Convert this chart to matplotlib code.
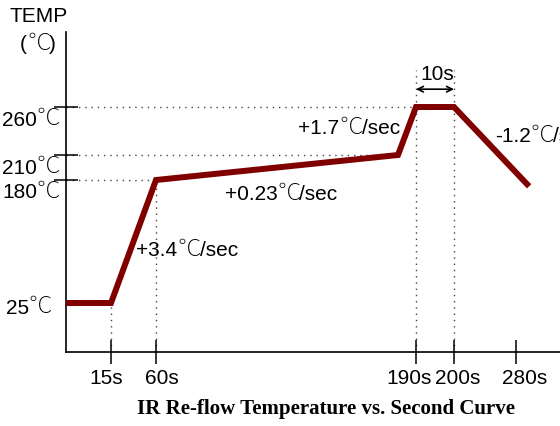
import numpy as np
import matplotlib
matplotlib.use("Agg")
import matplotlib.pyplot as plt
from matplotlib.transforms import IdentityTransform

# reflow profile (time in s, temperature in C)
times = [0, 15, 60, 181, 190, 200, 297]
temps = [25, 25, 180, 210, 260, 260, 172]

xticks = [15, 60, 190, 200, 280]
xlabels = ["15s", "60s", "190s", "200s", "280s"]
yticks = [25, 180, 210, 260]
ylabels = ["25℃", "180℃", "210℃", "260℃"]

slope_labels = ["+3.4℃/sec", "+0.23℃/sec", "+1.7℃/sec", "-1.2℃/sec"]
title = "IR Re-flow Temperature vs. Second Curve"

# the chart is a sketch: axes are not linear, so use piecewise scales
x_knots = [0, 15, 60, 190, 200, 280, 337]
x_pix = [0, 45, 90, 350, 388, 450, 494]
y_knots = [0, 25, 180, 210, 260, 340]
y_pix = [0, 49, 172, 197, 245, 320]


def fx(v):
    return np.interp(v, x_knots, x_pix)


def ix(v):
    return np.interp(v, x_pix, x_knots)


def fy(v):
    return np.interp(v, y_knots, y_pix)


def iy(v):
    return np.interp(v, y_pix, y_knots)


W, H = 560, 426
latin = "Liberation Sans"
cjk = "Noto Sans CJK JP"
fs = 15
fs_deg = 17
red = "#800000"
dot = dict(color="#444444", lw=1.0, ls=(0, (1, 3.5)), zorder=1)

fig = plt.figure(figsize=(5.6, 4.26), dpi=100)
renderer = fig.canvas.get_renderer()


def mixed_text(x, y, s, ha="left"):
    # x, y: pixels from the top-left, y = middle of the digits
    # the degree sign comes from a thin CJK face, the rest from Liberation
    parts = []
    buf = ""
    for ch in s:
        if ch == "℃":
            if buf:
                parts.append((buf, latin))
                buf = ""
            parts.append((ch, cjk))
        else:
            buf += ch
    if buf:
        parts.append((buf, latin))
    base = H - (y + 0.36 * fs * 100 / 72)
    texts = []
    widths = []
    for txt, fam in parts:
        if fam == cjk:
            t = fig.text(0, base + 0.5, txt, family=fam, fontsize=fs_deg,
                         weight="ultralight", va="baseline", ha="left",
                         transform=IdentityTransform())
            w = t.get_window_extent(renderer).width - 1.5
        else:
            t = fig.text(0, base, txt, family=fam, fontsize=fs,
                         va="baseline", ha="left",
                         transform=IdentityTransform())
            w = t.get_window_extent(renderer).width
        texts.append(t)
        widths.append(w)
    total = sum(widths)
    if ha == "center":
        x0 = x - total / 2
    elif ha == "right":
        x0 = x - total
    else:
        x0 = x
    for t, w in zip(texts, widths):
        t.set_x(x0)
        x0 += w


ax = fig.add_axes([66 / W, 74 / H, 494 / W, 320 / H])
ax.set_xscale("function", functions=(fx, ix))
ax.set_yscale("function", functions=(fy, iy))
ax.set_xlim(0, 337)
ax.set_ylim(0, 340)

# guide lines
ax.plot([0, times[2]], [temps[2], temps[2]], **dot)
ax.plot([0, times[3]], [temps[3], temps[3]], **dot)
ax.plot([0, times[4]], [temps[4], temps[4]], **dot)
ax.plot([times[1], times[1]], [0, temps[1]], **dot)
ax.plot([times[2], times[2]], [0, temps[2]], **dot)
ax.plot([times[4], times[4]], [0, 300], **dot)
ax.plot([times[5], times[5]], [0, 300], **dot)

ax.plot(times, temps, color=red, lw=4.3, solid_joinstyle="miter",
        solid_capstyle="butt", zorder=3)

# 10s span arrow
ax.annotate("", xy=(times[4], 279), xytext=(times[5], 279),
            arrowprops=dict(arrowstyle="<->", lw=1.2, color="black",
                            shrinkA=0, shrinkB=0, mutation_scale=10))

for s in ["top", "right"]:
    ax.spines[s].set_visible(False)
for s in ["left", "bottom"]:
    ax.spines[s].set_linewidth(1.2)

ax.set_xticks(xticks)
ax.set_xticklabels([])
ax.set_yticks(yticks[1:])
ax.set_yticklabels([])
ax.tick_params(direction="inout", length=17, width=1.1)
ax.minorticks_off()

fig.canvas.draw()

# x labels sit a little off their ticks in the original
x_shift = [-5, 6, -7, 4, 9]
for v, lab, dx in zip(xticks, xlabels, x_shift):
    px = ax.transData.transform((v, 0))[0]
    mixed_text(px + dx, 377, lab, ha="center")

for v, lab in zip(yticks, ylabels):
    py = H - ax.transData.transform((0, v))[1]
    if v == 25:
        mixed_text(51, py + 3, lab, ha="right")
    else:
        mixed_text(59, py + 11, lab, ha="right")

mixed_text(10, 15, "TEMP")
mixed_text(38, 43, "(℃)", ha="center")
mixed_text(187, 249, slope_labels[0], ha="center")
mixed_text(281, 193, slope_labels[1], ha="center")
mixed_text(349, 127, slope_labels[2], ha="center")
mixed_text(495, 135, slope_labels[3])
mixed_text(437, 73, "10s", ha="center")

fig.text(326 / W, 1 - 409 / H, title, ha="center", va="center",
         fontsize=15, family="Liberation Serif", weight="bold")

fig.savefig("out.png", dpi=100)
